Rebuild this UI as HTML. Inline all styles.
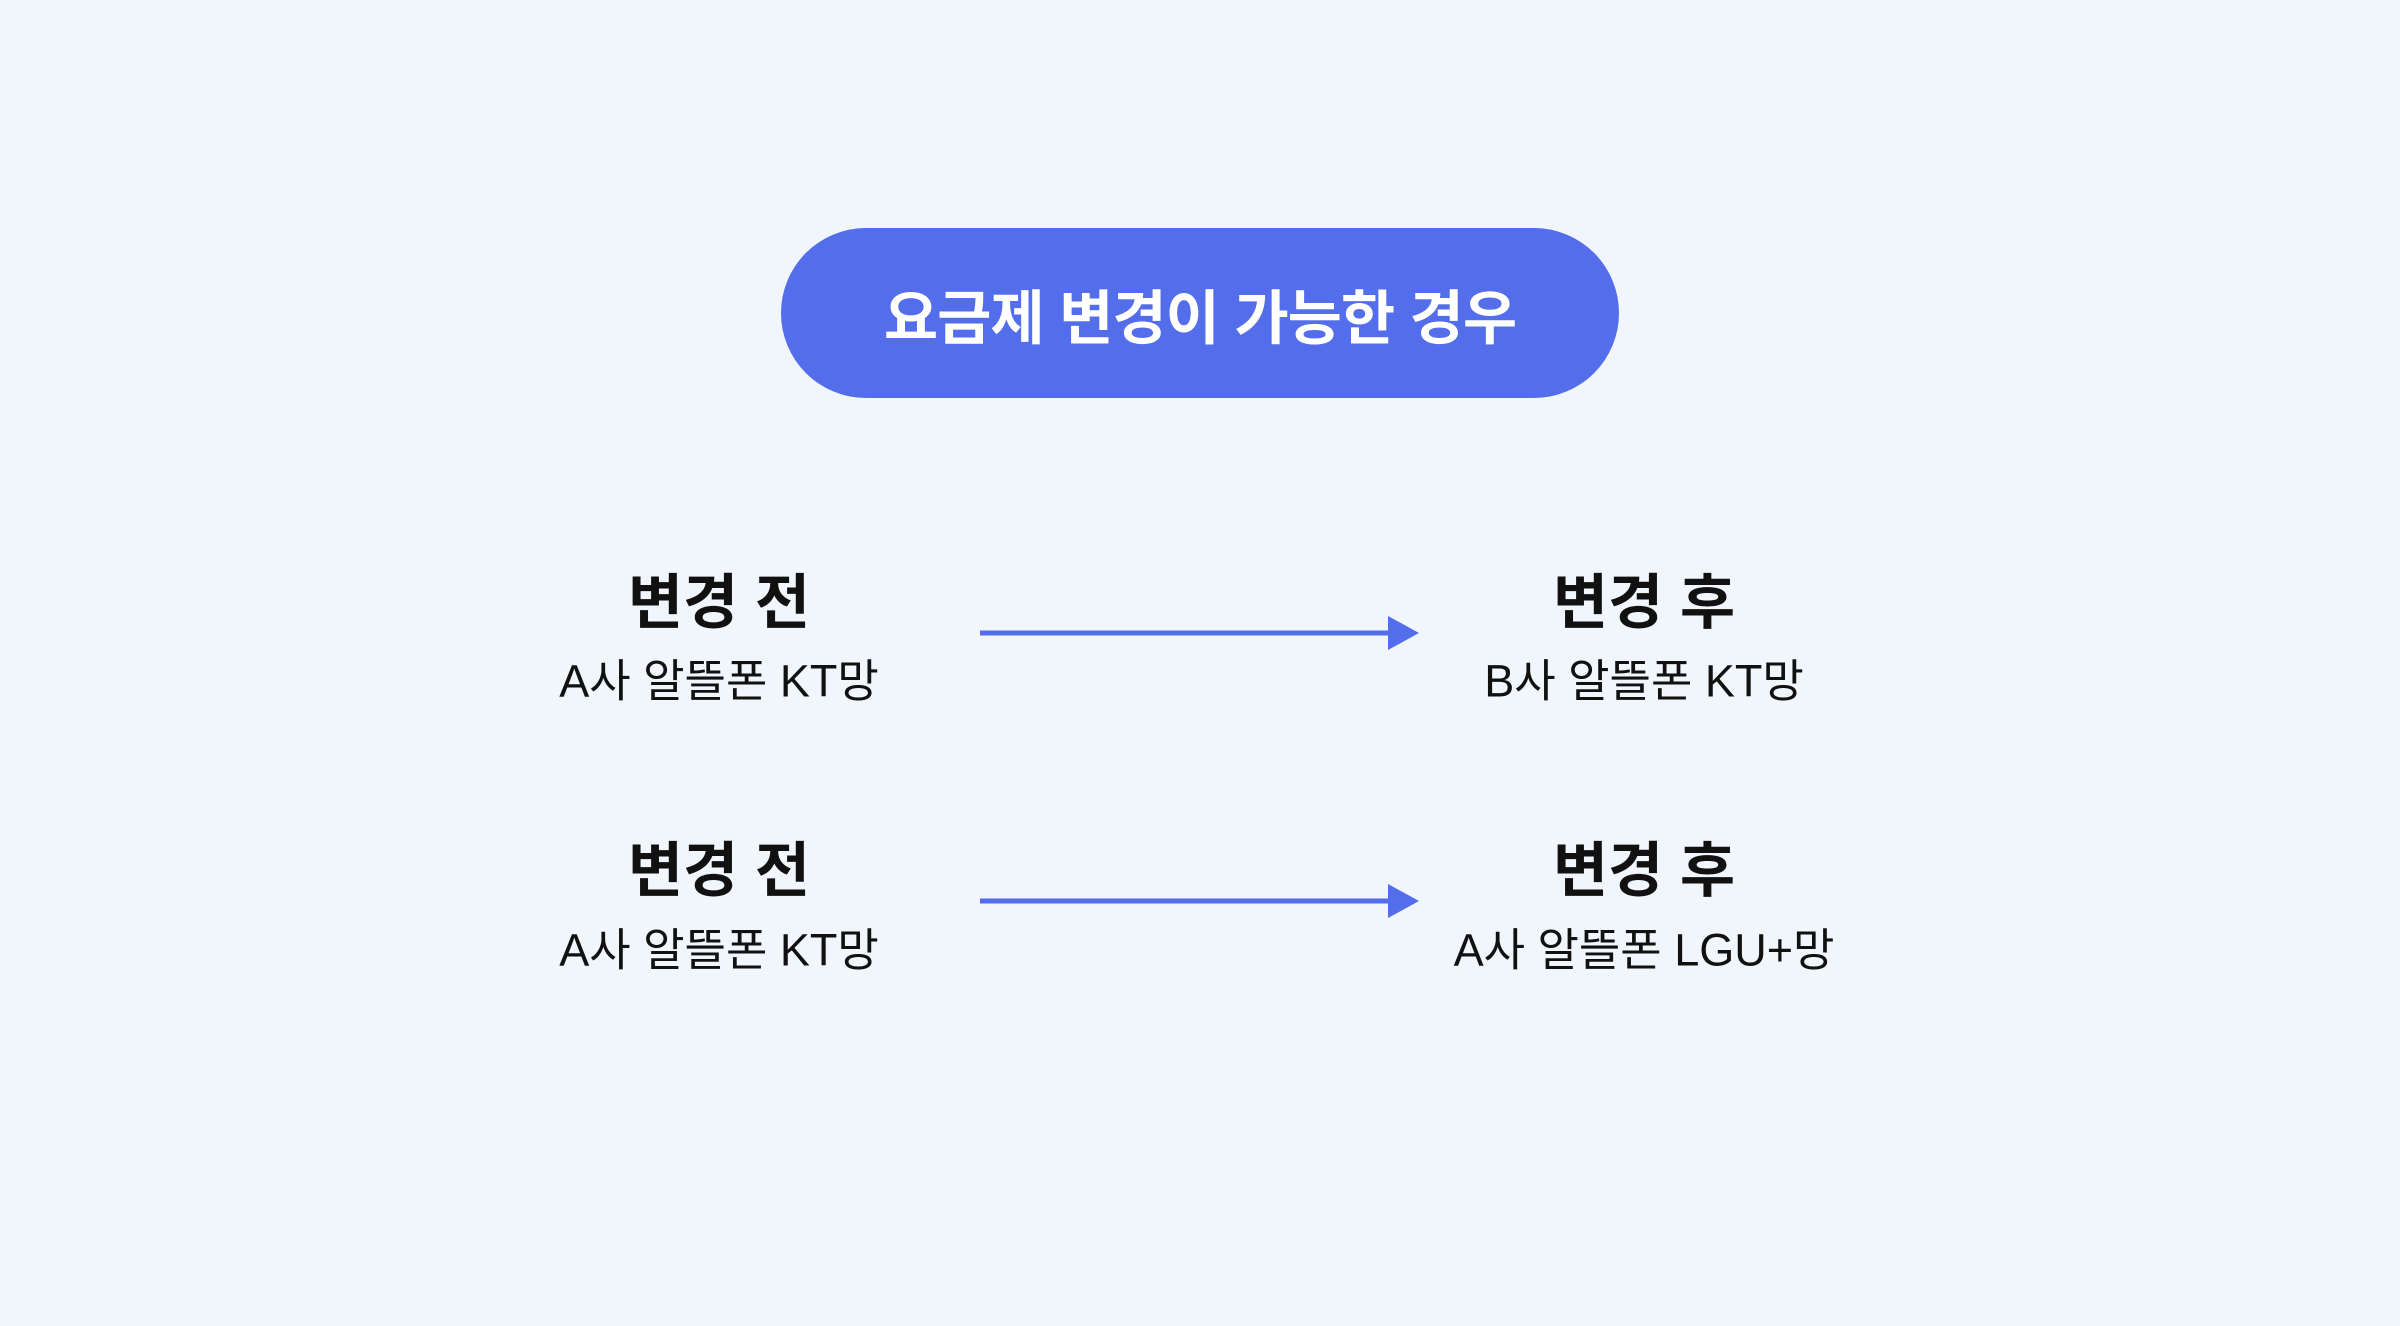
<!DOCTYPE html>
<html><head><meta charset="utf-8"><style>
html,body{margin:0;padding:0}
body{width:2400px;height:1326px;background:#F1F5FC;position:relative;overflow:hidden;font-family:"Liberation Sans","Noto Sans CJK KR",sans-serif;color:#111}
.pill{position:absolute;left:781px;top:228px;width:838px;height:170px;border-radius:85px;background:#536DEB;color:#fff;font-weight:700;font-size:59px;display:flex;align-items:center;justify-content:center;letter-spacing:-1px}
.t{position:absolute;width:600px;text-align:center;transform:translate(-50%,-50%);white-space:nowrap}
.h{font-weight:700;font-size:60px}
.s{font-size:45px}
svg{position:absolute;left:0;top:0}
</style></head><body>
<div class="pill">요금제 변경이 가능한 경우</div>
<div class="t h" style="left:719px;top:598px">변경 전</div>
<div class="t s" style="left:719px;top:677px">A사 알뜰폰 KT망</div>
<div class="t h" style="left:1644px;top:598px">변경 후</div>
<div class="t s" style="left:1644px;top:677px">B사 알뜰폰 KT망</div>
<div class="t h" style="left:719px;top:866px">변경 전</div>
<div class="t s" style="left:719px;top:946px">A사 알뜰폰 KT망</div>
<div class="t h" style="left:1644px;top:866px">변경 후</div>
<div class="t s" style="left:1644px;top:946px">A사 알뜰폰 LGU+망</div>
<svg width="2400" height="1326">
<line x1="980" y1="633" x2="1392" y2="633" stroke="#536DEB" stroke-width="5"/>
<polygon points="1388,616 1419,633 1388,650" fill="#536DEB"/>
<line x1="980" y1="901" x2="1392" y2="901" stroke="#536DEB" stroke-width="5"/>
<polygon points="1388,884 1419,901 1388,918" fill="#536DEB"/>
</svg>
</body></html>
